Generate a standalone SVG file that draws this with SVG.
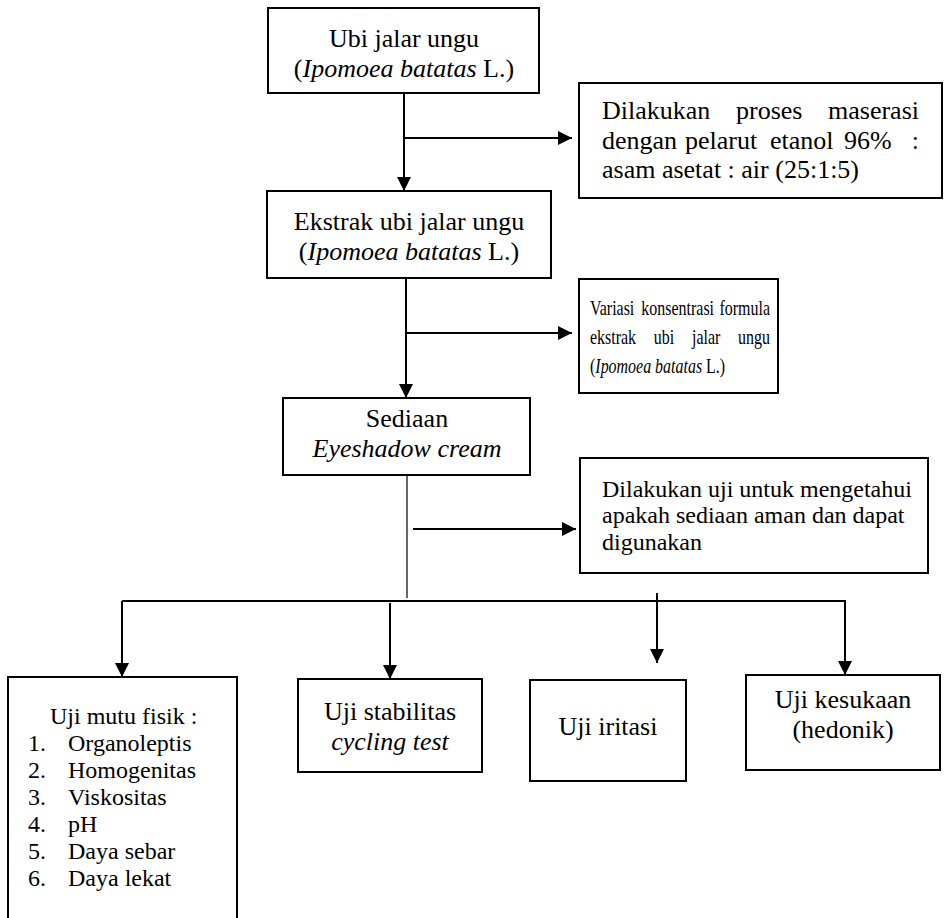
<svg xmlns="http://www.w3.org/2000/svg" width="948" height="918" viewBox="0 0 948 918">
<defs>
<marker id="ah" markerUnits="userSpaceOnUse" markerWidth="14" markerHeight="14" refX="14" refY="7" orient="auto">
<path d="M0,0 L14,7 L0,14 z" fill="#000"/>
</marker>
<style>
.box{fill:#fff;stroke:#000;stroke-width:2}
.t{font-family:"Liberation Serif","Times New Roman",serif;font-size:26px;fill:#000}
.m{text-anchor:middle}
.e{text-anchor:end}
.s{font-size:24px}
.v{font-size:21px}
.i{font-style:italic}
.c{fill:none;stroke:#000;stroke-width:2}
.thin{fill:none;stroke:#000;stroke-width:1.2}
</style>
</defs>
<rect width="948" height="918" fill="#fff"/>
<g id="connectors">
<line class="c" x1="404" y1="93" x2="404" y2="191" marker-end="url(#ah)"/>
<line class="c" x1="404" y1="138" x2="572" y2="138" marker-end="url(#ah)"/>
<line class="c" x1="406" y1="278" x2="406" y2="398" marker-end="url(#ah)"/>
<line class="c" x1="406" y1="333" x2="572" y2="333" marker-end="url(#ah)"/>
<line class="thin" x1="407" y1="475" x2="407" y2="598"/>
<line class="c" x1="413" y1="529" x2="576" y2="529" marker-end="url(#ah)"/>
<polyline class="c" points="122,601 845,601 845,675" marker-end="url(#ah)"/>
<line class="c" x1="122" y1="601" x2="122" y2="677" marker-end="url(#ah)"/>
<line class="c" x1="390" y1="603" x2="390" y2="679" marker-end="url(#ah)"/>
<line class="c" x1="657" y1="593" x2="657" y2="663" marker-end="url(#ah)"/>
</g>
<g id="n1">
<rect class="box" x="268" y="8" width="271" height="85"/>
<text class="t m" x="404" y="47">Ubi jalar ungu</text>
<text class="t m" x="404" y="77">(<tspan class="i">Ipomoea batatas</tspan> L.)</text>
</g>
<g id="n2">
<rect class="box" x="579" y="83" width="363" height="115"/>
<text class="t" y="119"><tspan x="602">Dilakukan</tspan><tspan x="736">proses</tspan></text>
<text class="t e" x="919" y="119">maserasi</text>
<text class="t" y="149"><tspan x="602">dengan</tspan><tspan x="685">pelarut</tspan><tspan x="770">etanol</tspan><tspan x="844">96%</tspan></text>
<text class="t e" x="919" y="149">:</text>
<text class="t" x="602" y="178">asam asetat : air (25:1:5)</text>
</g>
<g id="n3">
<rect class="box" x="267" y="191" width="284" height="87"/>
<text class="t m" x="409" y="230">Ekstrak ubi jalar ungu</text>
<text class="t m" x="409" y="260">(<tspan class="i">Ipomoea batatas</tspan> L.)</text>
</g>
<g id="n4">
<rect class="box" x="579" y="279" width="199" height="114"/>
<g transform="matrix(0.76 0 0 1 590 0)">
<text class="t v" y="315"><tspan x="0">Variasi</tspan><tspan x="67.6">konsentrasi</tspan></text>
<text class="t v e" x="236.8" y="315">formula</text>
<text class="t v" y="344"><tspan x="0">ekstrak</tspan><tspan x="84">ubi</tspan><tspan x="134.2">jalar</tspan></text>
<text class="t v e" x="236.8" y="344">ungu</text>
<text class="t v" x="0" y="373">(<tspan class="i">Ipomoea batatas</tspan> L.)</text>
</g>
</g>
<g id="n5">
<rect class="box" x="283" y="398" width="247" height="77"/>
<text class="t m" x="407" y="427">Sediaan</text>
<text class="t m i" x="407" y="457">Eyeshadow cream</text>
</g>
<g id="n6">
<rect class="box" x="580" y="458" width="348" height="115"/>
<text class="t s" x="602" y="497">Dilakukan uji untuk mengetahui</text>
<text class="t s" x="602" y="523">apakah sediaan aman dan dapat</text>
<text class="t s" x="602" y="550">digunakan</text>
</g>
<g id="n7">
<path class="c" d="M8,930 L8,677 L237,677 L237,930"/>
<text class="t s" x="50" y="724">Uji mutu fisik :</text>
<text class="t s" y="751"><tspan x="28">1.</tspan><tspan x="68">Organoleptis</tspan></text>
<text class="t s" y="778"><tspan x="28">2.</tspan><tspan x="68">Homogenitas</tspan></text>
<text class="t s" y="805"><tspan x="28">3.</tspan><tspan x="68">Viskositas</tspan></text>
<text class="t s" y="832"><tspan x="28">4.</tspan><tspan x="68">pH</tspan></text>
<text class="t s" y="859"><tspan x="28">5.</tspan><tspan x="68">Daya sebar</tspan></text>
<text class="t s" y="886"><tspan x="28">6.</tspan><tspan x="68">Daya lekat</tspan></text>
</g>
<g id="n8">
<rect class="box" x="298" y="679" width="184" height="93"/>
<text class="t m" x="390" y="720">Uji stabilitas</text>
<text class="t m i" x="390" y="750">cycling test</text>
</g>
<g id="n9">
<rect class="box" x="530" y="680" width="156" height="101"/>
<text class="t m" x="608" y="735">Uji iritasi</text>
</g>
<g id="n10">
<rect class="box" x="746" y="675" width="194" height="95"/>
<text class="t m" x="843" y="708">Uji kesukaan</text>
<text class="t m" x="843" y="738">(hedonik)</text>
</g>
</svg>
